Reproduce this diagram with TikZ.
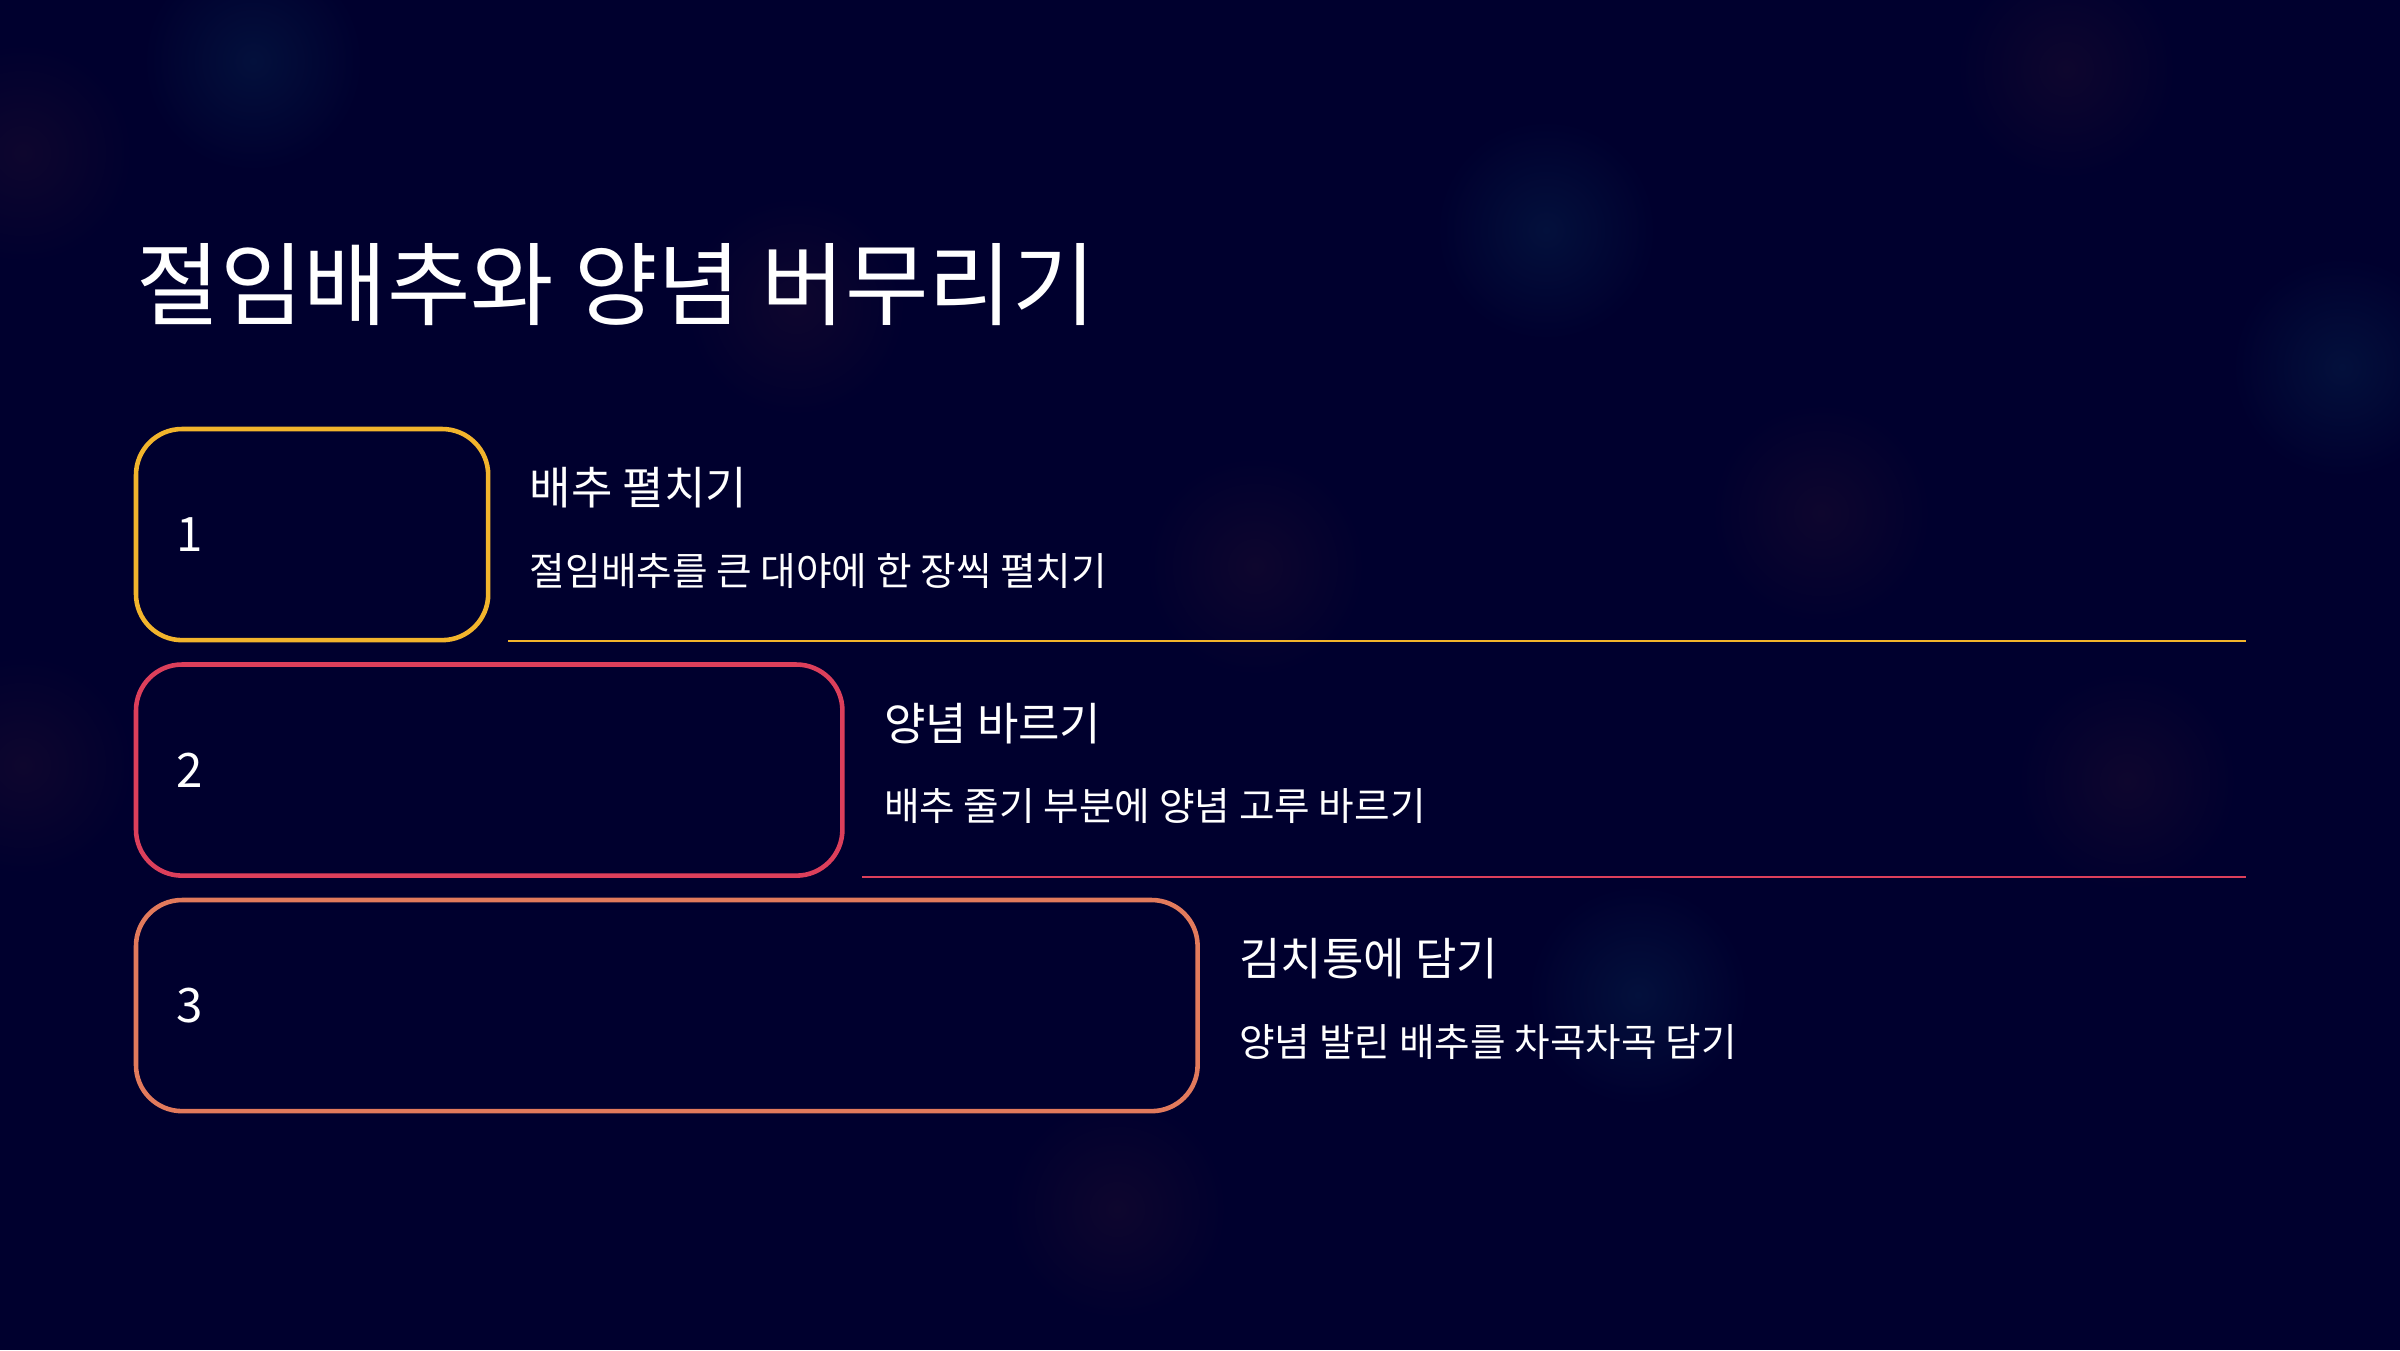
\documentclass[tikz,border=0pt]{standalone}
\usepackage{fontspec}
\setmainfont{Noto Sans CJK KR}
\usetikzlibrary{positioning,calc}
\definecolor{bgnavy}{HTML}{00002E}
\definecolor{stepamber}{HTML}{F2B42C}
\definecolor{steprose}{HTML}{DC3F5B}
\definecolor{stepcoral}{HTML}{E27A5C}
\definecolor{glowblue}{HTML}{03103C}
\definecolor{glowember}{HTML}{0E062E}

\begin{document}
\begin{tikzpicture}[
    x=0.01cm, y=-0.01cm,
    card/.style ={
        draw=#1,
        line width=1.3pt,
        rounded corners=0.46cm,
        fill=bgnavy,
        inner sep=0pt,
        outer sep=0pt,
        minimum height=2.11cm,
        anchor=north west
    },
    num/.style ={
        white,
        font=\fontsize{13.5}{16}\selectfont
    },
    head/.style ={
        white,
        anchor=west,
        inner sep=0pt,
        font=\fontsize{12.8}{15}\selectfont
    },
    desc/.style ={
        white,
        anchor=west,
        inner sep=0pt,
        font=\fontsize{11}{13}\selectfont
    },
    glow/.style ={
        inner color=#1,
        outer color=bgnavy
    }
    ]
    \fill[bgnavy] (0,0) rectangle (2400,1350);
    \useasboundingbox (0,0) rectangle (2400,1350);

    % soft background glows
    \foreach \gx/ \gy/ \gc in {253/61/glowblue, 2066/69/glowember, 2342/367/glowblue,
                               1821/513/glowember, 1255/566/glowember, 2127/781/glowember,
                               1638/995/glowblue, 1117/1209/glowember, 796/306/glowember,
                               23/153/glowember, 1546/230/glowblue, 23/765/glowember}
        \shade[glow=\gc] (\gx,\gy) circle (110);

    \node[white, anchor=west, inner sep=0pt, font=\fontsize{25.8}{30}\selectfont]
        (title) at (136,285) {절임배추와 양념 버무리기};

    \foreach \i/ \w/ \col/ \head/ \desc in {
        1/3.52/stepamber/배추 펼치기/절임배추를 큰 대야에 한 장씩 펼치기,
        2/7.06/steprose/양념 바르기/배추 줄기 부분에 양념 고루 바르기,
        3/10.61/stepcoral/김치통에 담기/양념 발린 배추를 차곡차곡 담기}
    {
        \node[card=\col, minimum width=\w cm] (box\i) at (136,{429+235.5*(\i-1)}) {};
        \node[num] (num\i) at ($(box\i.west)+(54,0)$) {\i};
        \node[head] (head\i) at ($(box\i.north east)+(41,59)$) {\head};
        \node[desc] (desc\i) at ($(box\i.north east)+(41,142)$) {\desc};
    }

    % separators under the first two steps
    \coordinate (edge) at (2246,0);
    \foreach \i/ \col in {1/stepamber, 2/steprose}
    {
        \coordinate (start\i) at ($(box\i.south east)+(20,1)$);
        \coordinate (rule\i) at (start\i -| edge);
        \draw[\col, line width=0.6pt] (start\i) -- (rule\i);
    }
\end{tikzpicture}
\end{document}
